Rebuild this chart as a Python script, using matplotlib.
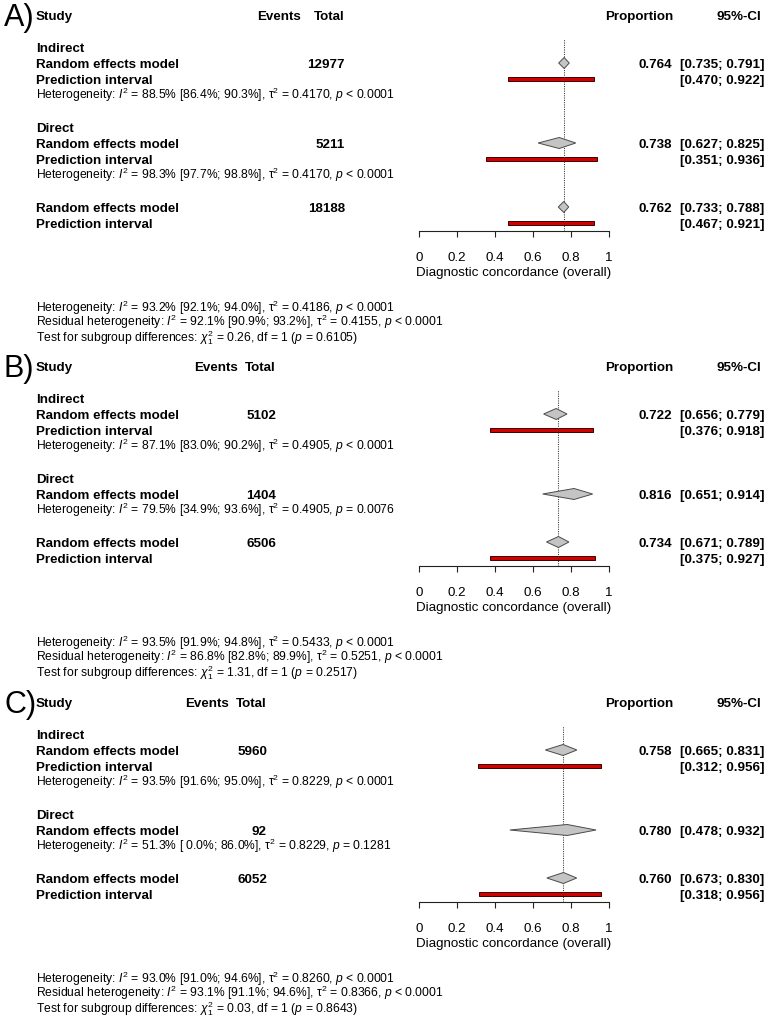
import matplotlib
matplotlib.use("Agg")
import matplotlib.pyplot as plt

plt.rcParams['font.family'] = ['Liberation Sans', 'DejaVu Sans']
plt.rcParams['mathtext.fontset'] = 'custom'
plt.rcParams['mathtext.rm'] = 'Liberation Sans'
plt.rcParams['mathtext.it'] = 'Liberation Sans:italic'
plt.rcParams['mathtext.bf'] = 'Liberation Sans:bold'

W, H = 767, 1018

# === DATA ===
panel_tags = ['A)', 'B)', 'C)']
subgroups = ['Indirect', 'Direct']

# rows: Indirect, Direct, overall
total_A = [12977, 5211, 18188]
est_A = [0.764, 0.738, 0.762]
lo_A = [0.735, 0.627, 0.733]
hi_A = [0.791, 0.825, 0.788]
pi_lo_A = [0.470, 0.351, 0.467]
pi_hi_A = [0.922, 0.936, 0.921]

total_B = [5102, 1404, 6506]
est_B = [0.722, 0.816, 0.734]
lo_B = [0.656, 0.651, 0.671]
hi_B = [0.779, 0.914, 0.789]
pi_lo_B = [0.376, None, 0.375]
pi_hi_B = [0.918, None, 0.927]

total_C = [5960, 92, 6052]
est_C = [0.758, 0.780, 0.760]
lo_C = [0.665, 0.478, 0.673]
hi_C = [0.831, 0.932, 0.830]
pi_lo_C = [0.312, None, 0.318]
pi_hi_C = [0.956, None, 0.956]

# heterogeneity: I2, I2 low, I2 high, tau2, p  (Indirect, Direct, overall, residual)
het_A = [("88.5%", "86.4%", "90.3%", "0.4170", "< 0.0001"),
         ("98.3%", "97.7%", "98.8%", "0.4170", "< 0.0001"),
         ("93.2%", "92.1%", "94.0%", "0.4186", "< 0.0001"),
         ("92.1%", "90.9%", "93.2%", "0.4155", "< 0.0001")]
het_B = [("87.1%", "83.0%", "90.2%", "0.4905", "< 0.0001"),
         ("79.5%", "34.9%", "93.6%", "0.4905", "= 0.0076"),
         ("93.5%", "91.9%", "94.8%", "0.5433", "< 0.0001"),
         ("86.8%", "82.8%", "89.9%", "0.5251", "< 0.0001")]
het_C = [("93.5%", "91.6%", "95.0%", "0.8229", "< 0.0001"),
         ("51.3%", " 0.0%", "86.0%", "0.8229", "= 0.1281"),
         ("93.0%", "91.0%", "94.6%", "0.8260", "< 0.0001"),
         ("93.1%", "91.1%", "94.6%", "0.8366", "< 0.0001")]
chi2_vals = ["0.26", "1.31", "0.03"]
chi2_p = ["0.6105", "0.2517", "0.8643"]

xticks = [0, 0.2, 0.4, 0.6, 0.8, 1]
xtick_labels = ['0', '0.2', '0.4', '0.6', '0.8', '1']

# === LAYOUT (pixels) ===
header_y = [15, 366, 702]
events_x = [301, 238, 229]
total_x = [345, 276, 267]
label_x = 36
prop_x = 672
ci_x = 764
x0_px, x1_px = 419, 609
ROW = 16
BOLD = 9.6
SMALL = 8.7

fig = plt.figure(figsize=(W / 100, H / 100), dpi=100)


def put(x, y, s, size=BOLD, bold=True, ha='left'):
    off = 0.36 * size / 0.72
    fig.text(x / W, 1 - (y + off) / H, s, fontsize=size,
             fontweight='bold' if bold else 'normal', ha=ha, va='baseline')


def het_text(h, prefix="Heterogeneity"):
    return (prefix + ": $I^2$ = " + h[0] + " [" + h[1] + "; " + h[2] + "], "
            + "τ$^2$ = " + h[3] + ", $p$ " + h[4])


panels = [
    (total_A, est_A, lo_A, hi_A, pi_lo_A, pi_hi_A, het_A),
    (total_B, est_B, lo_B, hi_B, pi_lo_B, pi_hi_B, het_B),
    (total_C, est_C, lo_C, hi_C, pi_lo_C, pi_hi_C, het_C),
]

for k, (tot, est, lo, hi, pl, ph, het) in enumerate(panels):
    y0 = header_y[k]
    fig.text(4 / W, 1 - (y0 + 11) / H, panel_tags[k], fontsize=22,
             ha='left', va='baseline')
    put(label_x, y0, "Study")
    put(events_x[k], y0, "Events", ha='right')
    put(total_x[k], y0, "Total", ha='right')
    put(prop_x + 1, y0, "Proportion", ha='right')
    put(ci_x - 3, y0, "95%-CI", ha='right')

    diamonds = []
    bars = []
    y = y0 + 2 * ROW
    for g in range(3):
        if g < 2:
            put(label_x, y, subgroups[g])
            y += ROW
        put(label_x, y, "Random effects model")
        put(total_x[k], y, str(tot[g]), ha='right')
        put(prop_x, y, "%.3f" % est[g], ha='right')
        put(ci_x, y, "[%.3f; %.3f]" % (lo[g], hi[g]), ha='right')
        diamonds.append((y, lo[g], est[g], hi[g]))
        y += ROW
        if pl[g] is not None:
            put(label_x, y, "Prediction interval")
            put(ci_x, y, "[%.3f; %.3f]" % (pl[g], ph[g]), ha='right')
            bars.append((y, pl[g], ph[g]))
            y += ROW
        if g < 2:
            put(label_x, y, het_text(het[g]), size=SMALL, bold=False)
            y += 2 * ROW
    axis_y = y - ROW + 8
    top_y = y0 + 2 * ROW - 8

    ax = fig.add_axes([x0_px / W, 1 - axis_y / H, (x1_px - x0_px) / W,
                       (axis_y - top_y) / H])
    ax.set_xlim(0, 1)
    ax.set_ylim(axis_y, top_y)
    ax.patch.set_visible(False)
    for s in ['top', 'right', 'left']:
        ax.spines[s].set_visible(False)
    ax.spines['bottom'].set_linewidth(0.8)
    ax.spines['bottom'].set_color('#222222')
    ax.set_yticks([])
    ax.set_xticks(xticks)
    ax.set_xticklabels(xtick_labels)
    ax.tick_params(axis='x', direction='out', length=4.3, width=0.8,
                   color='#222222', pad=11, labelsize=BOLD)
    ax.set_xlabel("Diagnostic concordance (overall)", fontsize=BOLD, labelpad=2)

    ax.axvline(est[2], ls=(0, (1, 1.2)), color='#333333', lw=0.75, zorder=2)
    for (yy, a, b) in bars:
        ax.barh(yy, b - a, left=a, height=4, color='#d40000',
                edgecolor='#3a0000', linewidth=0.7, zorder=1, clip_on=False)
    for (yy, a, m, b) in diamonds:
        ax.fill([a, m, b, m], [yy, yy - 5.5, yy, yy + 5.5], facecolor='#c4c4c4',
                edgecolor='#4a4a4a', linewidth=0.7, zorder=3, clip_on=False)

    yb = axis_y + 77
    put(label_x, yb, het_text(het[2]), size=SMALL, bold=False)
    put(label_x, yb + 14, het_text(het[3], "Residual heterogeneity"),
        size=SMALL, bold=False)
    put(label_x, yb + 29, "Test for subgroup differences: $\\chi^2_1$ = "
        + chi2_vals[k] + ", df = 1 ($p$ = " + chi2_p[k] + ")",
        size=SMALL, bold=False)

fig.savefig("out.png", dpi=100)
